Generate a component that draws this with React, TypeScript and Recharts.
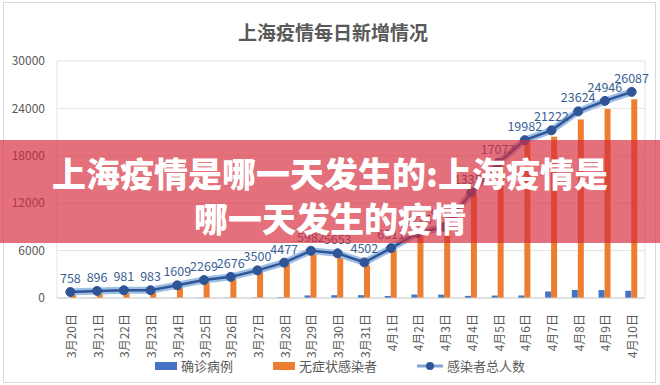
import React from 'react';
import {
  ComposedChart, Bar, Line, XAxis, YAxis, CartesianGrid, Legend, LabelList,
} from 'recharts';

const DATES = [
  '3月20日', '3月21日', '3月22日', '3月23日', '3月24日', '3月25日', '3月26日', '3月27日',
  '3月28日', '3月29日', '3月30日', '3月31日', '4月1日', '4月2日', '4月3日', '4月4日',
  '4月5日', '4月6日', '4月7日', '4月8日', '4月9日', '4月10日',
];
const CONFIRMED = [24, 31, 4, 4, 29, 38, 45, 50, 96, 326, 355, 358, 260, 438, 425, 268, 311, 322, 824, 1015, 1006, 914];
const ASYMPTOMATIC = [734, 865, 977, 979, 1580, 2231, 2631, 3450, 4381, 5656, 5298, 4144, 6051, 7788, 8581, 13086, 16766, 19660, 20398, 22609, 23937, 25173];
const TOTAL = [758, 896, 981, 983, 1609, 2269, 2676, 3500, 4477, 5982, 5653, 4502, 6311, 8226, 9006, 13354, 17077, 19982, 21222, 23624, 24946, 26087];
const Y_TICKS = [0, 6000, 12000, 18000, 24000, 30000];
const SERIES_NAMES = ['确诊病例', '无症状感染者', '感染者总人数'];

const data = DATES.map((d, i) => ({
  date: d, confirmed: CONFIRMED[i], asymptomatic: ASYMPTOMATIC[i], total: TOTAL[i],
}));

const FONT = "'Noto Sans CJK SC', 'Noto Sans', sans-serif";
const BLUE   = '#4472c4';
const ORANGE = '#ed7d31';
const NAVY   = '#2f5597';
const GREY   = '#595959';

function DateTick({ x, y, payload }: any) {
  return (
    <text x={x} y={y} transform={`rotate(-90 ${x} ${y})`} textAnchor="end" dominantBaseline="central"
      dx={-8} fontSize={12} fill={GREY} fontFamily={FONT}>
      {payload.value}
    </text>
  );
}

function LegendBox({ payload }: any) {
  const items = (payload || [])
    .filter((p: any) => SERIES_NAMES.includes(p.value))
    .sort((a: any, b: any) => SERIES_NAMES.indexOf(a.value) - SERIES_NAMES.indexOf(b.value));
  return (
    <div style={{ display: 'flex', justifyContent: 'center', gap: 40, paddingLeft: 20, fontFamily: FONT, fontSize: 13, color: GREY }}>
      {items.map((p: any) => (
        <div key={p.value} style={{ display: 'flex', alignItems: 'center', gap: 4 }}>
          {p.type === 'line' ? (
            <svg width={26} height={10}>
              <line x1={0} y1={5} x2={26} y2={5} stroke="#7fa3d6" strokeWidth={3} />
              <circle cx={13} cy={5} r={4} fill={NAVY} />
            </svg>
          ) : (
            <div style={{ width: 22, height: 8, background: p.color }} />
          )}
          <span>{p.value}</span>
        </div>
      ))}
    </div>
  );
}

export default function App() {
  return (
    <div style={{ position: 'fixed', left: 0, top: 0, width: 660, height: 385, background: '#fff', overflow: 'hidden' }}>
      <div style={{ position: 'absolute', left: 3, top: 2, width: 651, height: 379, border: '1px solid #d9d9d9' }} />
      <div style={{ position: 'absolute', left: 0, top: 18, width: 666, textAlign: 'center', fontFamily: FONT, fontWeight: 700, fontSize: 19, color: GREY }}>
        上海疫情每日新增情况
      </div>
      <div style={{ position: 'absolute', left: 0, top: 0 }}>
        <ComposedChart width={660} height={385} data={data} margin={{ top: 61, right: 15, left: 0, bottom: 0 }} barGap={0}>
          <CartesianGrid stroke="#e3e3e3"
            verticalCoordinatesGenerator={({ offset }: any) => [offset.left, offset.left + offset.width]} />
          <XAxis dataKey="date" height={87} interval={0} axisLine={{ stroke: '#d0d0d0' }} tickLine={false} tick={<DateTick />} />
          <YAxis width={57} domain={[0, 30000]} ticks={Y_TICKS} axisLine={false} tickLine={false} tickSize={0} tickMargin={12}
            tick={{ fontSize: 12, fill: GREY, fontFamily: FONT }} />
          <Legend layout="horizontal" verticalAlign="middle" align="center" content={<LegendBox />}
            wrapperStyle={{ top: 356, left: 0, width: 660 }} />
          <Bar dataKey="confirmed" name="确诊病例" fill={BLUE} barSize={6} legendType="rect" isAnimationActive={false} />
          <Bar dataKey="asymptomatic" name="无症状感染者" fill={ORANGE} barSize={6} legendType="rect" isAnimationActive={false} />
          <Line dataKey="total" name="glow" stroke="#9dbde4" strokeWidth={7} dot={false} activeDot={false}
            legendType="none" isAnimationActive={false} />
          <Line dataKey="total" name="感染者总人数" stroke={NAVY} strokeWidth={2.5} legendType="line"
            dot={{ r: 4.5, fill: NAVY, stroke: NAVY, strokeWidth: 1 }} isAnimationActive={false}>
            <LabelList dataKey="total" position="top" offset={9} fontSize={12.5} fill="#3a5f94" fontFamily={FONT} />
          </Line>
        </ComposedChart>
      </div>
      <div style={{ position: 'absolute', left: 0, top: 140, width: 660, height: 103, background: 'rgba(213,42,57,0.67)',
        color: '#fff', fontFamily: FONT, fontWeight: 900, fontSize: 34, lineHeight: '45px', textAlign: 'center', paddingTop: 10, boxSizing: 'border-box' }}>
        <div>上海疫情是哪一天发生的:上海疫情是</div>
        <div>哪一天发生的疫情</div>
      </div>
    </div>
  );
}
